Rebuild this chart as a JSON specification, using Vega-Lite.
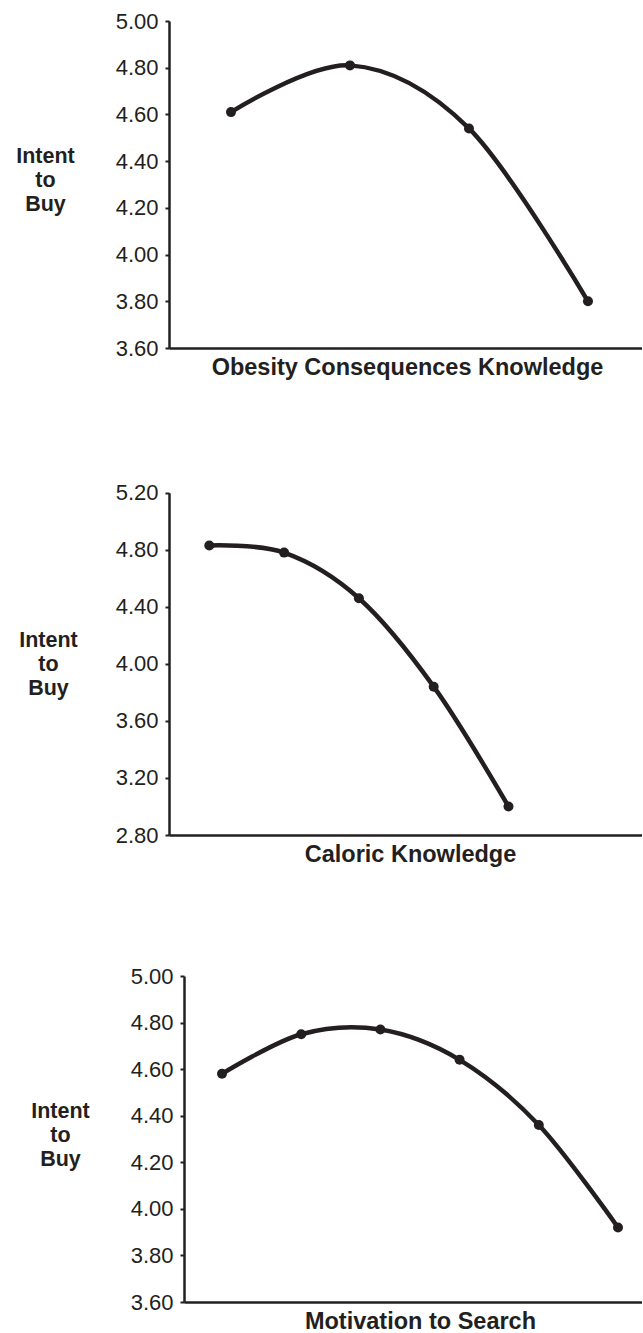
{
  "$schema": "https://vega.github.io/schema/vega-lite/v6.json",
  "padding": {"left": 15, "top": 10, "right": 0, "bottom": 5},
  "bounds": "flush",
  "spacing": 141,
  "config": {
    "view": {"stroke": null},
    "axis": {
      "grid": false,
      "domainColor": "#231f20",
      "domainWidth": 2.5,
      "tickColor": "#231f20",
      "tickWidth": 2,
      "tickSize": 4,
      "labelFont": "Liberation Sans",
      "labelFontSize": 22,
      "labelColor": "#231f20",
      "labelPadding": 7,
      "titleFont": "Liberation Sans",
      "titleFontSize": 21.5,
      "titleFontWeight": "bold",
      "titleColor": "#231f20"
    },
    "axisX": {"titleFontSize": 23.5}
  },
  "datasets": {
    "obesity": [
      {"level": 1, "intent": 4.61},
      {"level": 2, "intent": 4.81},
      {"level": 3, "intent": 4.54},
      {"level": 4, "intent": 3.80}
    ],
    "caloric": [
      {"level": 1, "intent": 4.83},
      {"level": 2, "intent": 4.78},
      {"level": 3, "intent": 4.46},
      {"level": 4, "intent": 3.84},
      {"level": 5, "intent": 3.00}
    ],
    "motivation": [
      {"level": 1, "intent": 4.58},
      {"level": 2, "intent": 4.75},
      {"level": 3, "intent": 4.77},
      {"level": 4, "intent": 4.64},
      {"level": 5, "intent": 4.36},
      {"level": 6, "intent": 3.92}
    ]
  },
  "vconcat": [
    {
      "data": {"name": "obesity"},
      "width": 473,
      "height": 327,
      "encoding": {
        "x": {
          "field": "level", "type": "quantitative",
          "scale": {"domain": [0.479, 4.454], "nice": false, "zero": false},
          "axis": {"title": "Obesity Consequences Knowledge", "labels": false, "ticks": false,
                   "titleX": 238, "titleY": 26, "titleBaseline": "alphabetic", "titleAlign": "center"}
        },
        "y": {
          "field": "intent", "type": "quantitative",
          "scale": {"domain": [3.6, 5.0], "nice": false, "zero": false},
          "axis": {"values": [3.6, 3.8, 4.0, 4.2, 4.4, 4.6, 4.8, 5.0], "format": ".2f",
                   "title": ["Intent", "to", "Buy"], "titleAngle": 0, "titleX": -124, "titleY": 141,
                   "titleAlign": "center", "titleBaseline": "alphabetic", "titleLineHeight": 24}
        }
      },
      "layer": [
        {"mark": {"type": "line", "interpolate": "cardinal", "color": "#231f20", "strokeWidth": 4.5}, "encoding": {}},
        {"mark": {"type": "point", "filled": true, "size": 100, "color": "#231f20", "opacity": 1}}
      ]
    },
    {
      "data": {"name": "caloric"},
      "width": 473,
      "height": 346,
      "encoding": {
        "x": {
          "field": "level", "type": "quantitative",
          "scale": {"domain": [0.461, 6.785], "nice": false, "zero": false},
          "axis": {"title": "Caloric Knowledge", "labels": false, "ticks": false,
                   "titleX": 241, "titleY": 26, "titleBaseline": "alphabetic", "titleAlign": "center"}
        },
        "y": {
          "field": "intent", "type": "quantitative",
          "scale": {"domain": [2.8, 5.2], "nice": false, "zero": false, "range": [346, 3.7]},
          "axis": {"values": [2.8, 3.2, 3.6, 4.0, 4.4, 4.8, 5.2], "format": ".2f",
                   "title": ["Intent", "to", "Buy"], "titleAngle": 0, "titleX": -121, "titleY": 157.5,
                   "titleAlign": "center", "titleBaseline": "alphabetic", "titleLineHeight": 24}
        }
      },
      "layer": [
        {"mark": {"type": "line", "interpolate": "cardinal", "color": "#231f20", "strokeWidth": 4.5}, "encoding": {}},
        {"mark": {"type": "point", "filled": true, "size": 100, "color": "#231f20", "opacity": 1}}
      ]
    },
    {
      "data": {"name": "motivation"},
      "width": 473,
      "height": 326,
      "encoding": {
        "x": {
          "field": "level", "type": "quantitative",
          "scale": {"domain": [0.52, 6.303], "nice": false, "zero": false, "range": [15, 473]},
          "axis": {"title": "Motivation to Search", "labels": false, "ticks": false,
                   "titleX": 251, "titleY": 26, "titleBaseline": "alphabetic", "titleAlign": "center"}
        },
        "y": {
          "field": "intent", "type": "quantitative",
          "scale": {"domain": [3.6, 5.0], "nice": false, "zero": false},
          "axis": {"values": [3.6, 3.8, 4.0, 4.2, 4.4, 4.6, 4.8, 5.0], "format": ".2f", "offset": -15,
                   "title": ["Intent", "to", "Buy"], "titleAngle": 0, "titleX": -124, "titleY": 141,
                   "titleAlign": "center", "titleBaseline": "alphabetic", "titleLineHeight": 24}
        }
      },
      "layer": [
        {"mark": {"type": "line", "interpolate": "cardinal", "color": "#231f20", "strokeWidth": 4.5}, "encoding": {}},
        {"mark": {"type": "point", "filled": true, "size": 100, "color": "#231f20", "opacity": 1}}
      ]
    }
  ]
}
